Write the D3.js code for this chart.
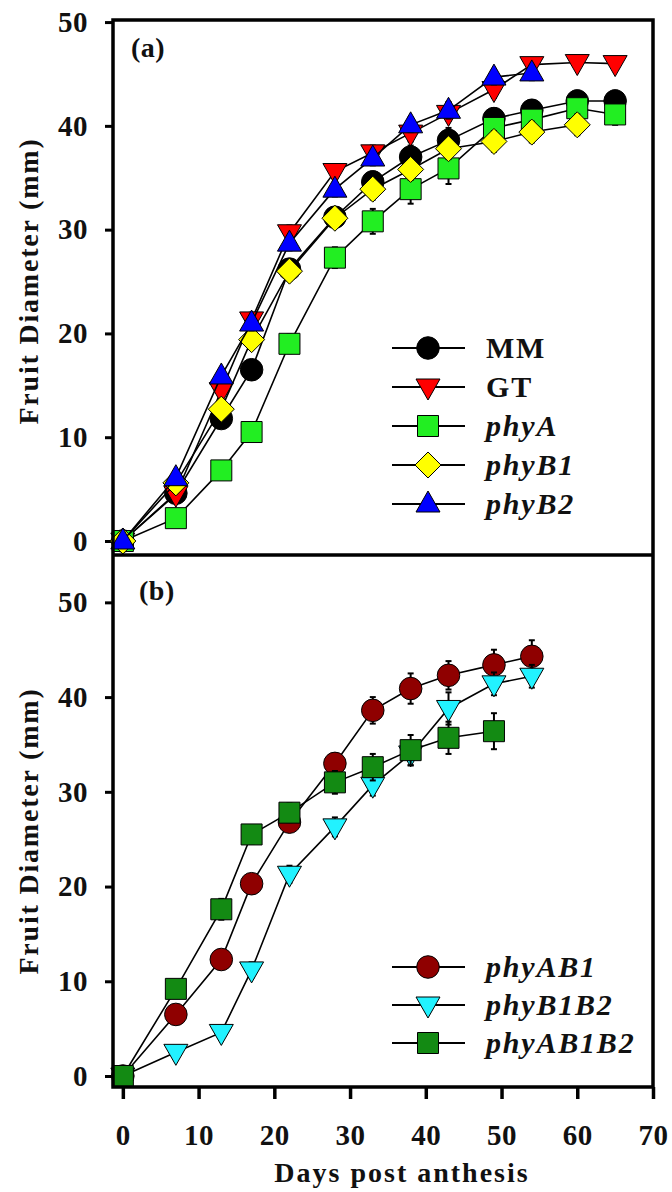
<!DOCTYPE html>
<html>
<head>
<meta charset="utf-8">
<script src="https://cdn.jsdelivr.net/npm/d3@7"></script>
<style>
  body { margin: 0; background: #fff; }
</style>
</head>
<body>
<div id="chart"></div>
<script>
// days post anthesis
var daysA = [0, 7, 13, 17, 22, 28, 33, 38, 43, 49, 54, 60, 65];
var daysB = [0, 7, 13, 17, 22, 28, 33, 38, 43, 49, 54];

// panel (a) fruit diameter (mm)
var mmVals    = [0, 4.6, 11.8, 16.5, 26.2, 31.2, 34.6, 37.0, 38.6, 40.7, 41.5, 42.4, 42.4];
var gtVals    = [0, 4.5, 14.5, 21.3, 29.7, 35.6, 37.4, 39.3, 41.2, 43.5, 45.9, 46.1, 46.0];
var phyAVals  = [0, 2.2, 6.8, 10.5, 19.0, 27.3, 30.8, 33.9, 35.9, 39.8, 40.6, 41.7, 41.1];
var phyB1Vals = [0, 5.6, 12.7, 19.4, 26.0, 31.1, 33.9, 35.8, 37.8, 38.5, 39.4, 40.1];
var phyB2Vals = [0, 6.1, 15.9, 21.0, 28.7, 33.9, 36.9, 40.1, 41.5, 44.7, 45.1];

var mmErr    = [0, 0.5, 0.7, 0.8, 0.9, 0.9, 1.0, 1.1, 1.2, 1.0, 1.0, 1.0, 1.0];
var gtErr    = [0, 0.4, 0.6, 0.7, 0.7, 0.7, 0.7, 0.8, 0.7, 0.8, 0.6, 0.6, 0.6];
var phyAErr  = [0, 0.4, 0.6, 0.8, 0.9, 1.0, 1.2, 1.4, 1.5, 1.1, 1.1, 1.0, 1.0];
var phyB1Err = [0, 0.5, 0.7, 0.8, 0.9, 0.9, 1.0, 1.0, 1.0, 1.0, 1.0, 1.0];
var phyB2Err = [0, 0.4, 0.6, 0.7, 0.7, 0.7, 0.7, 0.7, 0.8, 0.7, 0.7];

// panel (b) fruit diameter (mm)
var phyAB1Vals   = [0, 6.5, 12.3, 20.3, 26.8, 33.0, 38.6, 40.9, 42.3, 43.4, 44.3];
var phyB1B2Vals  = [0, 2.5, 4.6, 11.2, 21.3, 26.3, 30.7, 34.0, 38.8, 41.4, 42.2];
var phyAB1B2Vals = [0, 9.2, 17.6, 25.5, 27.8, 31.0, 32.6, 34.4, 35.7, 36.4];

var phyAB1Err   = [0, 0.6, 0.8, 0.9, 1.0, 1.1, 1.4, 1.6, 1.5, 1.6, 1.7];
var phyB1B2Err  = [0, 0.4, 0.5, 0.8, 0.9, 1.0, 1.1, 1.2, 1.7, 1.2, 1.2];
var phyAB1B2Err = [0, 0.6, 1.1, 1.0, 1.0, 1.2, 1.4, 1.6, 1.7, 1.9];

var xTicks = [0, 10, 20, 30, 40, 50, 60, 70];
var yTicks = [0, 10, 20, 30, 40, 50];

var seriesA = [
  { name: 'MM', italic: false, shape: 'circle', fill: '#000000', vals: mmVals, err: mmErr },
  { name: 'GT', italic: false, shape: 'down', fill: '#ff0000', vals: gtVals, err: gtErr },
  { name: 'phyA', italic: true, shape: 'square', fill: '#22ee22', vals: phyAVals, err: phyAErr },
  { name: 'phyB1', italic: true, shape: 'diamond', fill: '#ffff00', vals: phyB1Vals, err: phyB1Err },
  { name: 'phyB2', italic: true, shape: 'up', fill: '#0000ff', vals: phyB2Vals, err: phyB2Err }
];
var seriesB = [
  { name: 'phyAB1', italic: true, shape: 'circle', fill: '#8f0000', vals: phyAB1Vals, err: phyAB1Err },
  { name: 'phyB1B2', italic: true, shape: 'down', fill: '#22f2ff', vals: phyB1B2Vals, err: phyB1B2Err },
  { name: 'phyAB1B2', italic: true, shape: 'square', fill: '#138a13', vals: phyAB1B2Vals, err: phyAB1B2Err }
];

var FONT = 'Liberation Serif';
var width = 672;
var height = 1192;
var left = 113, right = 653;

var svg = d3.select('#chart')
  .append('svg')
  .attr('width', width)
  .attr('height', height);

var x = d3.scaleLinear().domain([-1.3, 70]).range([left, right]);

// marker path around 0,0
function symbolPath(shape) {
  if (shape === 'circle') return d3.symbol(d3.symbolCircle, 400)();
  if (shape === 'square') return 'M-10.5,-10.5H10.5V10.5H-10.5Z';
  if (shape === 'diamond') return 'M0,-13L13,0L0,13L-13,0Z';
  if (shape === 'up') return 'M0,-13L12,8L-12,8Z';
  if (shape === 'down') return 'M0,13L12,-8L-12,-8Z';
}

function styleText(sel, size, spacing) {
  sel.attr('font-size', size)
    .attr('fill', '#111')
    .style('font-family', FONT)
    .style('font-weight', 'bold')
    .style('letter-spacing', (spacing || 0) + 'px');
}

function drawPanel(opts) {
  var y = d3.scaleLinear().domain(opts.yDomain).range([opts.bottom, opts.top]);
  var g = svg.append('g');

  // y axis ticks
  var yAxis = g.append('g')
    .attr('transform', 'translate(' + left + ',0)')
    .call(d3.axisLeft(y).tickValues(yTicks).tickSize(8).tickPadding(17));
  yAxis.select('.domain').remove();
  yAxis.selectAll('.tick line').attr('stroke', '#000').attr('stroke-width', 3);
  styleText(yAxis.selectAll('.tick text'), 29, 0.5);

  // series
  opts.series.forEach(function(s) {
    var pts = s.vals.map(function(v, i) { return { d: opts.days[i], v: v, e: s.err[i] }; });
    var line = d3.line()
      .x(function(p) { return x(p.d); })
      .y(function(p) { return y(p.v); });

    g.append('path')
      .datum(pts)
      .attr('d', line)
      .attr('fill', 'none')
      .attr('stroke', '#000')
      .attr('stroke-width', 1.6);

    var eb = g.selectAll(null)
      .data(pts.filter(function(p) { return p.e > 0; }))
      .enter()
      .append('g')
      .attr('stroke', '#000')
      .attr('stroke-width', 2);
    eb.append('line')
      .attr('x1', function(p) { return x(p.d); })
      .attr('x2', function(p) { return x(p.d); })
      .attr('y1', function(p) { return y(p.v - p.e); })
      .attr('y2', function(p) { return y(p.v + p.e); });
    eb.append('line')
      .attr('x1', function(p) { return x(p.d) - 3; })
      .attr('x2', function(p) { return x(p.d) + 3; })
      .attr('y1', function(p) { return y(p.v + p.e); })
      .attr('y2', function(p) { return y(p.v + p.e); });
    eb.append('line')
      .attr('x1', function(p) { return x(p.d) - 3; })
      .attr('x2', function(p) { return x(p.d) + 3; })
      .attr('y1', function(p) { return y(p.v - p.e); })
      .attr('y2', function(p) { return y(p.v - p.e); });

    g.selectAll(null)
      .data(pts)
      .enter()
      .append('path')
      .attr('d', symbolPath(s.shape))
      .attr('transform', function(p) { return 'translate(' + x(p.d) + ',' + y(p.v) + ')'; })
      .attr('fill', s.fill)
      .attr('stroke', '#000')
      .attr('stroke-width', 1);
  });

  // legend
  var leg = g.selectAll('.legendRow')
    .data(opts.series)
    .enter()
    .append('g')
    .attr('class', 'legendRow')
    .attr('transform', function(d, i) { return 'translate(0,' + (opts.legendY + i * opts.legendStep) + ')'; });
  leg.append('line')
    .attr('x1', 392).attr('x2', 465)
    .attr('stroke', '#000').attr('stroke-width', 2);
  leg.append('path')
    .attr('d', function(d) { return symbolPath(d.shape); })
    .attr('transform', 'translate(428,0)')
    .attr('fill', function(d) { return d.fill; })
    .attr('stroke', '#000')
    .attr('stroke-width', 1);
  var lt = leg.append('text')
    .attr('x', 486)
    .attr('y', 10)
    .text(function(d) { return d.name; });
  styleText(lt, 30, 1.8);
  lt.style('font-style', function(d) { return d.italic ? 'italic' : 'normal'; });

  // panel letter
  var pl = g.append('text')
    .attr('x', opts.labelX)
    .attr('y', opts.labelY)
    .text(opts.label);
  styleText(pl, 28, 0.5);

  // y title
  var yt = g.append('text')
    .attr('transform', 'translate(38,' + opts.titleY + ') rotate(-90)')
    .attr('text-anchor', 'middle')
    .text('Fruit Diameter (mm)');
  styleText(yt, 28, 1.8);

  return y;
}

drawPanel({
  top: 20, bottom: 555, yDomain: [-1.35, 50.2],
  days: daysA, series: seriesA,
  legendY: 348, legendStep: 39,
  label: '(a)', labelX: 131, labelY: 57, titleY: 281
});

drawPanel({
  top: 555, bottom: 1087, yDomain: [-1.16, 55],
  days: daysB, series: seriesB,
  legendY: 967, legendStep: 38,
  label: '(b)', labelX: 139, labelY: 600, titleY: 831
});

// frame lines
var frame = svg.append('g')
  .attr('fill', 'none')
  .attr('stroke', '#000')
  .attr('stroke-width', 3.5);
frame.append('path')
  .attr('d', 'M' + left + ',' + 1087 + 'V' + 20 + 'H' + right + 'V' + 1087 + 'Z');
frame.append('line')
  .attr('x1', left).attr('x2', right)
  .attr('y1', 555).attr('y2', 555);

// x axis on the bottom panel
var xAxis = svg.append('g')
  .attr('transform', 'translate(0,1087)')
  .call(d3.axisBottom(x).tickValues(xTicks).tickSize(12).tickPadding(25));
xAxis.select('.domain').remove();
xAxis.selectAll('.tick line').attr('stroke', '#000').attr('stroke-width', 3.5);
styleText(xAxis.selectAll('.tick text'), 29, 0.5);

var xt = svg.append('text')
  .attr('x', 402)
  .attr('y', 1182)
  .attr('text-anchor', 'middle')
  .text('Days post anthesis');
styleText(xt, 28, 2);
</script>
</body>
</html>
